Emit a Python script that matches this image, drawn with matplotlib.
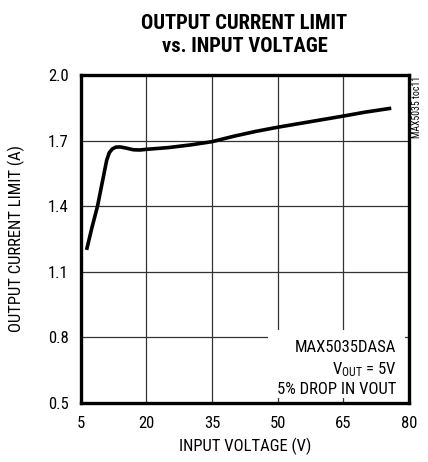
import matplotlib.pyplot as plt
import matplotlib.font_manager as fm
from matplotlib.patches import Rectangle

# curve (input voltage V, current limit A)
vin = [6.3, 7.5, 8.8, 10.0, 10.9, 11.5, 12.2, 13.0, 14.0, 15.5, 17.0, 18.5, 20.0,
       25.0, 30.0, 35.0, 40.0, 45.0, 50.0, 55.0, 60.0, 65.0, 70.0, 76.0]
ilim = [1.20, 1.30, 1.40, 1.52, 1.61, 1.645, 1.662, 1.670, 1.671, 1.665, 1.658, 1.657, 1.660,
        1.668, 1.680, 1.695, 1.720, 1.742, 1.761, 1.778, 1.795, 1.812, 1.830, 1.848]

xticks = [5, 20, 35, 50, 65, 80]
yticks = [0.5, 0.8, 1.1, 1.4, 1.7, 2.0]
note = ['MAX5035DASA', '$\\mathregular{V_{OUT}}$ = 5V', '5% DROP IN VOUT']


def first_font(cands):
    names = {f.name for f in fm.fontManager.ttflist}
    for c in cands:
        if c in names:
            return c
    return 'DejaVu Sans'


body = first_font(['Roboto Condensed', 'Archivo Narrow', 'Pragati Narrow', 'PT Sans Narrow',
                   'Fira Sans Condensed', 'IBM Plex Sans Condensed', 'Liberation Sans Narrow'])
head = first_font(['Roboto Condensed', 'Barlow Condensed', 'Fira Sans Condensed',
                   'IBM Plex Sans Condensed', 'Archivo Narrow'])
plt.rcParams['font.family'] = [body, 'DejaVu Sans']
plt.rcParams['mathtext.fontset'] = 'custom'
plt.rcParams['mathtext.rm'] = body

fig = plt.figure(figsize=(4.28, 4.62), dpi=100)
ax = fig.add_axes([0.189, 0.1277, 0.766, 0.71])

ax.plot(vin, ilim, color='black', linewidth=2.6, solid_capstyle='butt', zorder=4)

ax.set_xlim(5, 80)
ax.set_ylim(0.5, 2.0)
ax.set_xticks(xticks)
ax.set_yticks(yticks)
ax.set_yticklabels([f'{v:.1f}' for v in yticks])
ax.tick_params(length=0, labelsize=12, pad=9)
ax.grid(True, color='#333333', linewidth=0.9)
ax.set_axisbelow(True)
for s in ax.spines.values():
    s.set_linewidth(2.4)
    s.set_zorder(5)

ax.set_xlabel('INPUT VOLTAGE (V)', fontsize=12, labelpad=5)
ax.set_ylabel('OUTPUT CURRENT LIMIT (A)', fontsize=12, labelpad=16)

fig.text(0.571, 0.970, 'OUTPUT CURRENT LIMIT\nvs. INPUT VOLTAGE', ha='center', va='top',
         fontsize=14.8, fontweight='black', family=[head, 'DejaVu Sans'], linespacing=1.25)

# white box behind the note
ax.add_patch(Rectangle((0.570, 0.015), 0.418, 0.208, transform=ax.transAxes,
                       facecolor='white', edgecolor='none', zorder=2))
for txt, yb in zip(note, [0.1555, 0.0884, 0.0274]):
    ax.text(0.963, yb, txt, transform=ax.transAxes, ha='right', va='baseline',
            fontsize=12, zorder=3)

fig.text(0.975, 0.836, 'MAX5035 toc11', rotation=90, ha='center', va='top', fontsize=7)

fig.savefig('out.png', dpi=100)
